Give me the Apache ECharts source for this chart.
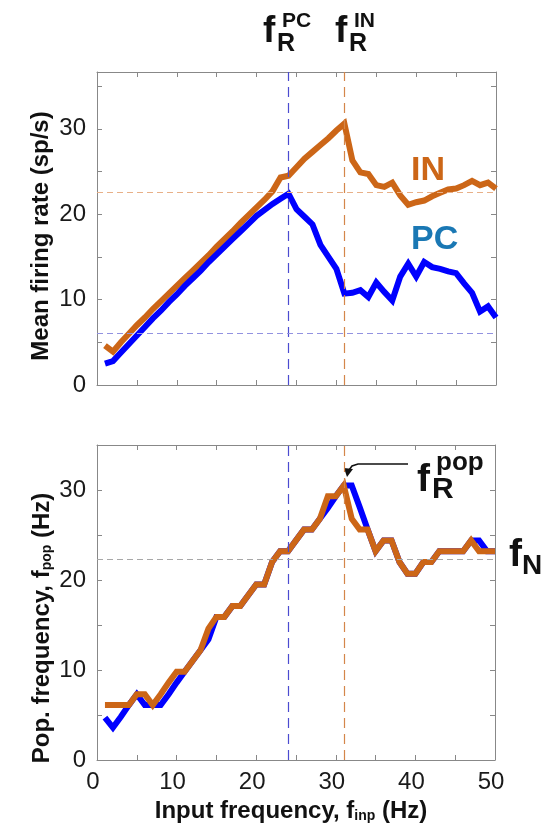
<!DOCTYPE html>
<html>
<head>
<meta charset="utf-8">
<script src="https://cdn.jsdelivr.net/npm/echarts@6/dist/echarts.min.js"></script>
<style>
  html, body { margin: 0; padding: 0; background: #fff; }
  #chart-container { width: 543px; height: 838px; }
</style>
</head>
<body>
<div id="chart-container"></div>
<script>
// input frequency (Hz)
var freq = [1, 2, 3, 4, 5, 6, 7, 8, 9, 10,
  11, 12, 13, 14, 15, 16, 17, 18, 19, 20,
  21, 22, 23, 24, 25, 26, 27, 28, 29, 30,
  31, 32, 33, 34, 35, 36, 37, 38, 39, 40,
  41, 42, 43, 44, 45, 46, 47, 48, 49, 50];

// mean firing rate (sp/s)
var inRate = [4.6, 3.9, 5.0, 6.0, 7.0, 7.9, 8.9, 9.8, 10.7, 11.6,
  12.5, 13.4, 14.3, 15.2, 16.2, 17.1, 18.0, 19.0, 19.9, 20.8,
  21.7, 22.7, 24.3, 24.5, 25.5, 26.5, 27.3, 28.1, 28.9, 29.8,
  30.6, 26.3, 24.9, 24.7, 23.4, 23.2, 23.7, 22.2, 21.1, 21.4,
  21.6, 22.1, 22.5, 22.9, 23.0, 23.4, 23.9, 23.4, 23.7, 23.0];
var pcRate = [2.5, 2.8, 3.8, 4.8, 5.8, 6.8, 7.8, 8.7, 9.7, 10.6,
  11.6, 12.5, 13.4, 14.4, 15.3, 16.2, 17.1, 18.0, 18.9, 19.8,
  20.5, 21.2, 21.8, 22.4, 20.6, 19.7, 18.8, 16.4, 15.0, 13.6,
  10.7, 10.8, 11.1, 10.3, 12.0, 10.9, 9.9, 12.7, 14.2, 12.7,
  14.4, 13.8, 13.6, 13.3, 13.1, 11.9, 10.8, 8.6, 9.2, 7.9];

// population frequency (Hz)
var inPop = [6.1, 6.1, 6.1, 6.1, 7.3, 7.3, 6.1, 7.3, 8.6, 9.8,
  9.8, 11.0, 12.2, 14.6, 15.9, 15.9, 17.1, 17.1, 18.3, 19.5,
  19.5, 22.0, 23.2, 23.2, 24.4, 25.6, 25.6, 26.8, 29.3, 29.3,
  30.5, 26.8, 25.6, 25.6, 23.2, 24.4, 24.4, 22.0, 20.7, 20.7,
  22.0, 22.0, 23.2, 23.2, 23.2, 23.2, 24.4, 23.2, 23.2, 23.2];
var pcPop = [4.7, 3.6, 4.8, 6.1, 7.3, 6.1, 6.1, 6.1, 7.3, 8.6,
  9.8, 11.0, 12.2, 13.4, 15.9, 15.9, 17.1, 17.1, 18.3, 19.5,
  19.5, 22.0, 23.2, 23.2, 24.4, 25.6, 25.6, 26.8, 28.0, 29.3,
  30.5, 30.5, 28.1, 25.6, 23.2, 24.4, 24.4, 22.0, 20.7, 20.7,
  22.0, 22.0, 23.2, 23.2, 23.2, 23.2, 24.4, 24.4, 23.2, 23.2];

// reference lines
var pcResonance = 24;
var inResonance = 31;
var inMeanRate = 22.6;
var pcMeanRate = 6.1;
var naturalFreq = 22.3;

var xTicks = [0, 10, 20, 30, 40, 50];
var yTicks = [0, 10, 20, 30];

var ORANGE = '#cc6617';
var BLUE = '#0000ff';
var FONT = 'Liberation Sans, Arial, sans-serif';

function pairs(xs, ys) {
  return xs.map(function (x, i) { return [x, ys[i]]; });
}

function tickFmt(list) {
  return function (v) { return list.indexOf(v) >= 0 ? String(v) : ''; };
}

function xAx(grid, pos, labels) {
  return {
    type: 'value', gridIndex: grid, position: pos, min: 0, max: 50, interval: 5,
    axisLine: { show: true, onZero: false, lineStyle: { color: '#888', width: 1 } },
    axisTick: { show: true, inside: true, length: 5, lineStyle: { color: '#888' } },
    axisLabel: { show: labels, margin: 10, fontSize: 24, color: '#1a1a1a', fontFamily: FONT,
      padding: [0, 8, 0, 0], formatter: tickFmt(xTicks) },
    splitLine: { show: false }
  };
}

function yAx(grid, pos, max, labels) {
  return {
    type: 'value', gridIndex: grid, position: pos, min: 0, max: max, interval: 5,
    axisLine: { show: true, onZero: false, lineStyle: { color: '#888', width: 1 } },
    axisTick: { show: true, inside: true, length: 5, lineStyle: { color: '#888' } },
    axisLabel: { show: labels, margin: 11, fontSize: 24, color: '#1a1a1a', fontFamily: FONT,
      formatter: tickFmt(yTicks), showMaxLabel: false },
    splitLine: { show: false }
  };
}

function refLine(xi, yi, lines) {
  return {
    type: 'line', xAxisIndex: xi, yAxisIndex: yi, data: [], z: 1, silent: true,
    markLine: {
      silent: true, symbol: ['none', 'none'], label: { show: false },
      animation: false, data: lines
    }
  };
}

function vline(x, color) {
  return { xAxis: x, lineStyle: { color: color, width: 1.2, type: [10, 6] } };
}
function hline(y, color) {
  return { yAxis: y, lineStyle: { color: color, width: 1, type: [6, 4] } };
}

function curve(xi, yi, data, color, z) {
  return {
    type: 'line', xAxisIndex: xi, yAxisIndex: yi, data: data, z: z,
    symbol: 'none', lineStyle: { color: color, width: 6, join: 'miter' },
    animation: false
  };
}

var dom = document.getElementById('chart-container');
var myChart = echarts.init(dom, null, { renderer: 'canvas' });

var option = {
  backgroundColor: '#fff',
  animation: false,
  grid: [
    { left: 97, right: 47, top: 72, height: 313 },
    { left: 97, right: 48, top: 445, height: 315 }
  ],
  xAxis: [xAx(0, 'bottom', false), xAx(0, 'top', false), xAx(1, 'bottom', true), xAx(1, 'top', false)],
  yAxis: [yAx(0, 'left', 36.65, true), yAx(0, 'right', 36.65, false), yAx(1, 'left', 35, true), yAx(1, 'right', 35, false)],
  series: [
    refLine(0, 0, [
      vline(pcResonance, '#4b4bd0'), vline(inResonance, '#d4864a'),
      hline(inMeanRate, '#e8b088'), hline(pcMeanRate, '#9292e0')
    ]),
    refLine(2, 2, [
      vline(pcResonance, '#4b4bd0'), vline(inResonance, '#d4864a'),
      hline(naturalFreq, '#a8a8a8')
    ]),
    curve(0, 0, pairs(freq, inRate), ORANGE, 3),
    curve(0, 0, pairs(freq, pcRate), BLUE, 4),
    curve(2, 2, pairs(freq, pcPop), BLUE, 3),
    curve(2, 2, pairs(freq, inPop), ORANGE, 4)
  ],
  graphic: [
    // axis titles
    { type: 'text', x: 41, y: 236, rotation: Math.PI / 2,
      style: { text: 'Mean firing rate (sp/s)', font: 'bold 24px ' + FONT, fill: '#111',
        align: 'center', verticalAlign: 'middle', textAlign: 'center', textVerticalAlign: 'middle' } },
    { type: 'text', x: 42, y: 628, rotation: Math.PI / 2,
      style: { text: 'Pop. frequency, f{sub|pop} (Hz)', font: 'bold 24px ' + FONT, fill: '#111',
        align: 'center', verticalAlign: 'middle', textAlign: 'center', textVerticalAlign: 'middle',
        rich: { sub: { fontSize: 14, fontWeight: 'bold', fontFamily: FONT, fill: '#111', verticalAlign: 'bottom' } } } },
    { type: 'text', x: 291, y: 811,
      style: { text: 'Input frequency, f{sub|inp} (Hz)', font: 'bold 24px ' + FONT, fill: '#111',
        align: 'center', verticalAlign: 'middle', textAlign: 'center', textVerticalAlign: 'middle',
        rich: { sub: { fontSize: 14, fontWeight: 'bold', fontFamily: FONT, fill: '#111', verticalAlign: 'bottom' } } } },

    // series labels
    { type: 'text', x: 411, y: 171,
      style: { text: 'IN', font: 'bold 34px ' + FONT, fill: ORANGE, verticalAlign: 'middle', textVerticalAlign: 'middle' } },
    { type: 'text', x: 411, y: 240,
      style: { text: 'PC', font: 'bold 34px ' + FONT, fill: '#1a78b4', verticalAlign: 'middle', textVerticalAlign: 'middle' } },

    // f_R^PC
    { type: 'text', x: 263, y: 32, style: { text: 'f', font: 'bold 37px ' + FONT, fill: '#111', verticalAlign: 'middle', textVerticalAlign: 'middle' } },
    { type: 'text', x: 277, y: 44, style: { text: 'R', font: 'bold 25px ' + FONT, fill: '#111', verticalAlign: 'middle', textVerticalAlign: 'middle' } },
    { type: 'text', x: 282, y: 21, style: { text: 'PC', font: 'bold 21px ' + FONT, fill: '#111', verticalAlign: 'middle', textVerticalAlign: 'middle' } },
    // f_R^IN
    { type: 'text', x: 335, y: 32, style: { text: 'f', font: 'bold 37px ' + FONT, fill: '#111', verticalAlign: 'middle', textVerticalAlign: 'middle' } },
    { type: 'text', x: 349, y: 44, style: { text: 'R', font: 'bold 25px ' + FONT, fill: '#111', verticalAlign: 'middle', textVerticalAlign: 'middle' } },
    { type: 'text', x: 354, y: 21, style: { text: 'IN', font: 'bold 21px ' + FONT, fill: '#111', verticalAlign: 'middle', textVerticalAlign: 'middle' } },
    // f_R^pop
    { type: 'text', x: 417, y: 480, style: { text: 'f', font: 'bold 39px ' + FONT, fill: '#111', verticalAlign: 'middle', textVerticalAlign: 'middle' } },
    { type: 'text', x: 432, y: 490, style: { text: 'R', font: 'bold 30px ' + FONT, fill: '#111', verticalAlign: 'middle', textVerticalAlign: 'middle' } },
    { type: 'text', x: 436, y: 463, style: { text: 'pop', font: 'bold 26px ' + FONT, fill: '#111', verticalAlign: 'middle', textVerticalAlign: 'middle' } },
    // f_N
    { type: 'text', x: 509, y: 555, style: { text: 'f', font: 'bold 39px ' + FONT, fill: '#111', verticalAlign: 'middle', textVerticalAlign: 'middle' } },
    { type: 'text', x: 522, y: 566, style: { text: 'N', font: 'bold 28px ' + FONT, fill: '#111', verticalAlign: 'middle', textVerticalAlign: 'middle' } },

    // arrow to the population resonance
    { type: 'polyline', shape: { points: [[408, 464], [358, 464], [352, 466], [349, 470]] },
      style: { stroke: '#111', lineWidth: 1.5, fill: null } },
    { type: 'polygon', shape: { points: [[344, 468], [353, 469], [347, 477]] },
      style: { fill: '#111' } }
  ]
};

if (option && typeof option === 'object') {
  myChart.setOption(option);
}

window.addEventListener('resize', myChart.resize);
</script>
</body>
</html>
